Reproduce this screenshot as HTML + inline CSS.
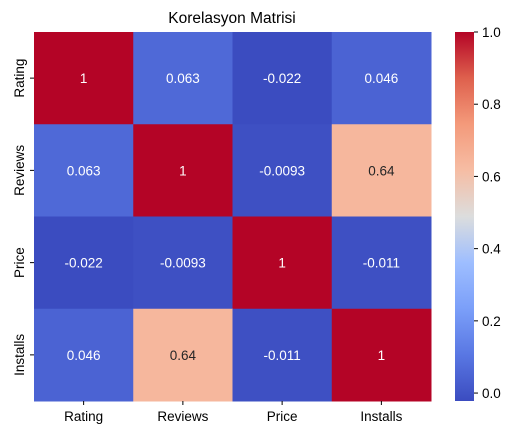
<!DOCTYPE html>
<html><head><meta charset="utf-8"><style>
body{margin:0;background:#fff;}
svg{font-family:"Liberation Sans","DejaVu Sans",sans-serif;}
</style></head><body>
<svg id="c" width="515" height="435"></svg>
<script>
const labels=["Rating","Reviews","Price","Installs"];
const row0=[1,0.063,-0.022,0.046];
const row1=[0.063,1,-0.0093,0.64];
const row2=[-0.022,-0.0093,1,-0.011];
const row3=[0.046,0.64,-0.011,1];
const cbTicks=[0.0,0.2,0.4,0.6,0.8,1.0];
const rows=[row0,row1,row2,row3];
const vmin=-0.022,vmax=1;
const NS="http://www.w3.org/2000/svg";
const svg=document.getElementById('c');
const X0=34,X1=431,Y0=32,Y1=401;
const cw=(X1-X0)/4,ch=(Y1-Y0)/4;
const stops=[[0,[59,76,192]],[0.125,[89,119,227]],[0.25,[123,159,249]],[0.375,[158,190,255]],[0.5,[220,221,221]],[0.625,[246,189,164]],[0.75,[244,154,123]],[0.875,[222,96,77]],[1,[180,4,38]]];
function cmap(t){t=Math.max(0,Math.min(1,t));for(let i=1;i<stops.length;i++){if(t<=stops[i][0]){const a=stops[i-1],b=stops[i];const f=(t-a[0])/(b[0]-a[0]);return a[1].map((v,k)=>Math.round(v+(b[1][k]-v)*f));}}return stops[stops.length-1][1];}
function lum(c){return (0.299*c[0]+0.587*c[1]+0.114*c[2])/255;}
function el(tag,attrs,txt){const e=document.createElementNS(NS,tag);for(const k in attrs)e.setAttribute(k,attrs[k]);if(txt!==undefined)e.textContent=txt;svg.appendChild(e);return e;}
const xs=i=>X0+i*cw, ys=j=>Y0+j*ch;
let t=el('text',{x:232,y:23,'text-anchor':'middle','font-size':15.5,fill:'#000'},'Korelasyon Matrisi');


rows.forEach((r,j)=>r.forEach((v,i)=>{
 const c=cmap((v-vmin)/(vmax-vmin));
 const rc=el('rect',{x:xs(i),y:ys(j),width:cw+0.5,height:ch+0.5,fill:`rgb(${c})`});
 
 
 const tx=el('text',{x:xs(i)+cw/2,y:ys(j)+ch/2+5,'text-anchor':'middle','font-size':13.5,fill:lum(c)>0.5?'#262626':'#fff'},String(v));
 
 
}));
labels.forEach((l,i)=>{
 el('line',{x1:xs(i)+cw/2,x2:xs(i)+cw/2,y1:Y1,y2:Y1+4,stroke:'#000'});
 const a=el('text',{x:xs(i)+cw/2,y:Y1+20,'text-anchor':'middle','font-size':13.5,fill:'#000'},l);
 
 
 const yc=ys(i)+ch/2;
 el('line',{x1:X0-4,x2:X0,y1:yc,y2:yc,stroke:'#000'});
 const b=el('text',{x:0,y:0,'text-anchor':'middle','font-size':13.5,fill:'#000',transform:`translate(${X0-10},${yc}) rotate(-90)`},l);
 
 
});
// colorbar
const CX=455,CW=19;
const defs=el('defs',{});
const g=document.createElementNS(NS,'linearGradient');g.setAttribute('id','cg');g.setAttribute('x1','0');g.setAttribute('y1','1');g.setAttribute('x2','0');g.setAttribute('y2','0');defs.appendChild(g);
stops.forEach(s=>{const st=document.createElementNS(NS,'stop');st.setAttribute('offset',s[0]);st.setAttribute('stop-color',`rgb(${s[1]})`);g.appendChild(st);});
const cb=el('rect',{x:CX,y:Y0,width:CW,height:Y1-Y0,fill:'url(#cg)'});


const cy=v=>Y1-(v-vmin)/(vmax-vmin)*(Y1-Y0);
cbTicks.forEach(v=>{
 el('line',{x1:CX+CW,x2:CX+CW+4,y1:cy(v),y2:cy(v),stroke:'#000'});
 const a=el('text',{x:CX+CW+8,y:cy(v)+5,'font-size':13.5,fill:'#000'},v.toFixed(1));
 
 
});
</script>
</body></html>
